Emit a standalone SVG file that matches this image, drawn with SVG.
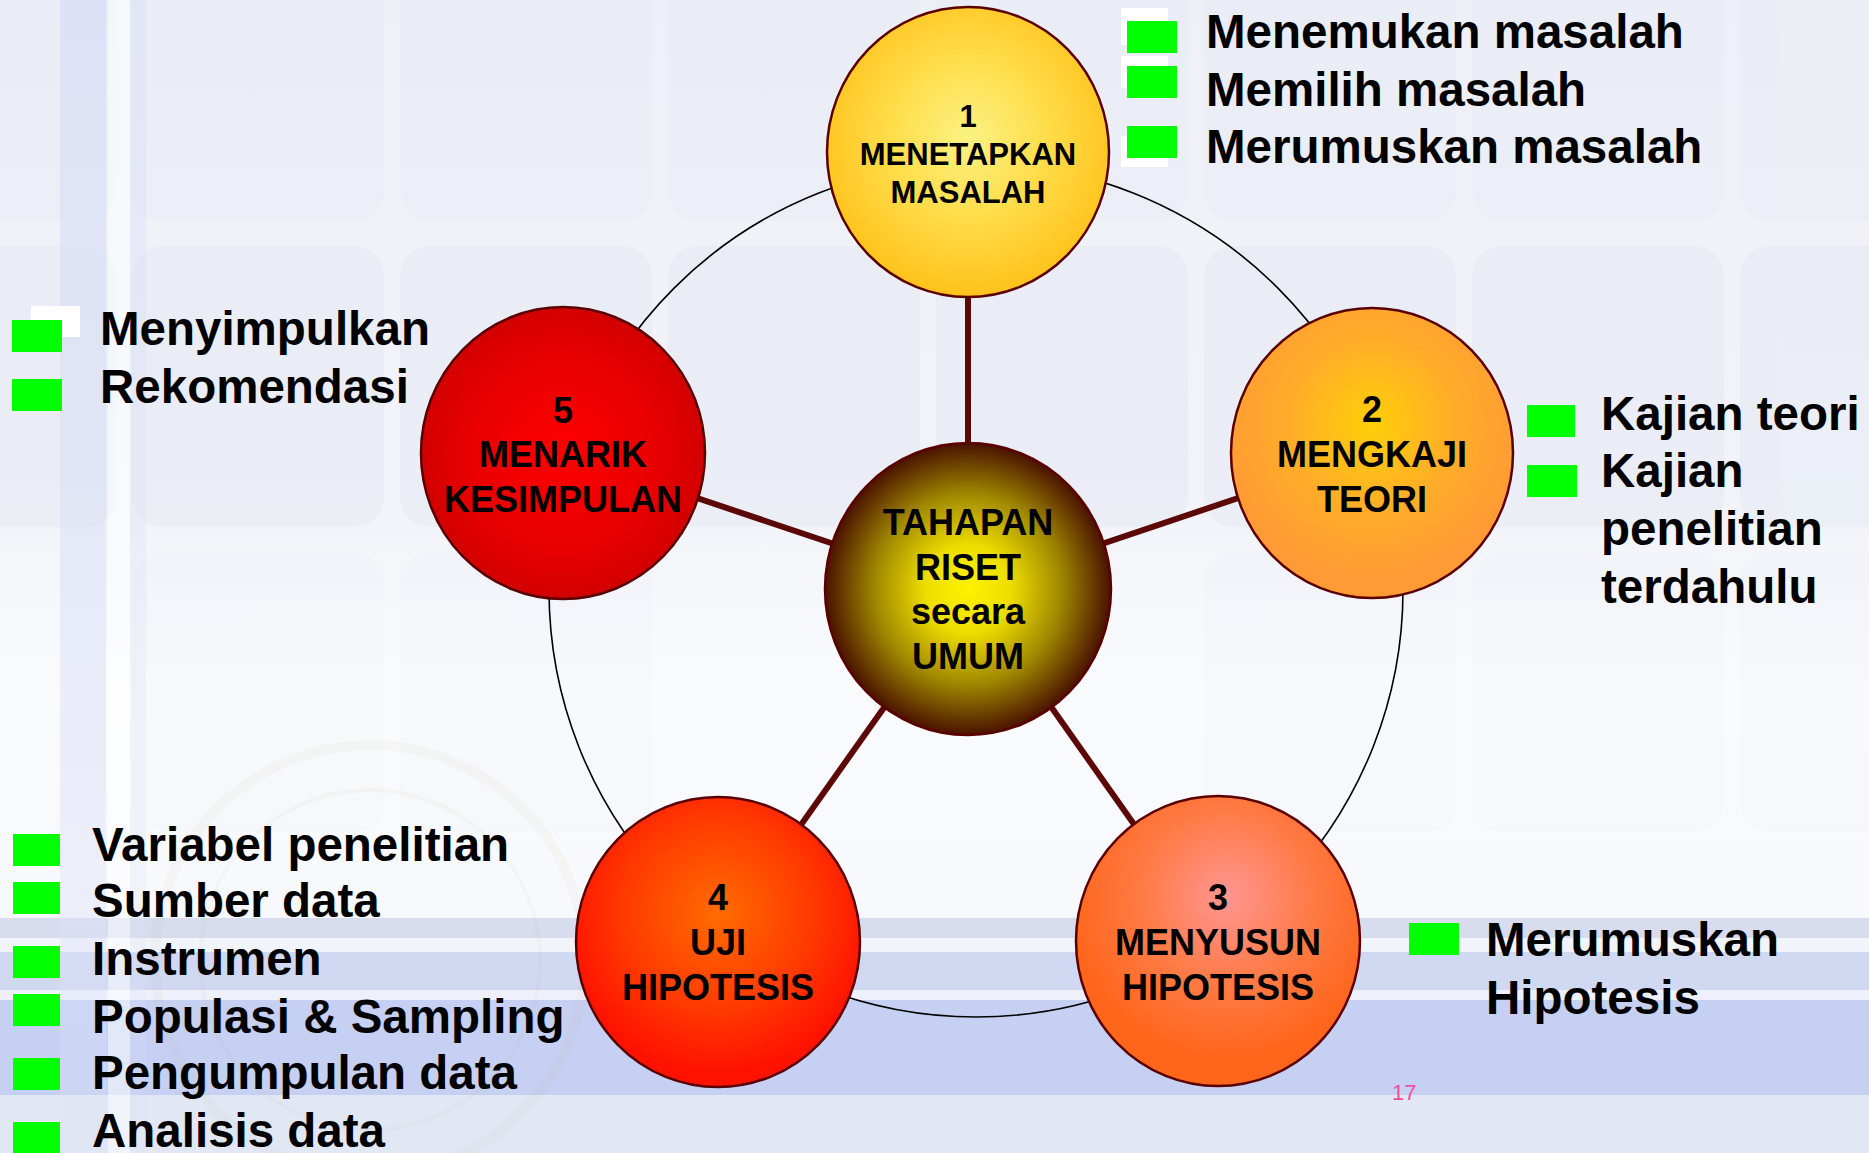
<svg xmlns="http://www.w3.org/2000/svg" width="1869" height="1153" viewBox="0 0 1869 1153">
<style>
.lst{font-family:"Liberation Sans",Arial,sans-serif;font-weight:bold;font-size:47.5px;fill:#000}
.lbl{font-family:"Liberation Sans",Arial,sans-serif;font-weight:bold;font-size:36px;fill:#000;text-anchor:middle}
.lbl1{font-family:"Liberation Sans",Arial,sans-serif;font-weight:bold;font-size:31px;fill:#000;text-anchor:middle}
.bul{fill:#00ff00}
.wb{fill:#ffffff}
.node{stroke:#5a0000;stroke-width:2.5}
.spoke{stroke:#5c0808;stroke-width:6;fill:none}
.tile{fill:#dfe4f0}
</style>
<defs>
<linearGradient id="bg" x1="0" y1="0" x2="0" y2="1">
<stop offset="0" stop-color="#eef0f7"/>
<stop offset="0.45" stop-color="#f2f4f9"/>
<stop offset="0.6" stop-color="#fafbfd"/>
<stop offset="0.78" stop-color="#f8f9fd"/>
<stop offset="1" stop-color="#eef1f9"/>
</linearGradient>
<linearGradient id="lstripe" x1="0" y1="0" x2="0" y2="1">
<stop offset="0" stop-color="#d6dcf5" stop-opacity="0.7"/>
<stop offset="0.7" stop-color="#dde2f6" stop-opacity="0.5"/>
<stop offset="1" stop-color="#dde2f6" stop-opacity="0.2"/>
</linearGradient>
<radialGradient id="g1" cx="0.5" cy="0.45" r="0.55">
<stop offset="0" stop-color="#faf283"/>
<stop offset="0.5" stop-color="#ffdd4a"/>
<stop offset="1" stop-color="#ffc21a"/>
</radialGradient>
<radialGradient id="g2" cx="0.5" cy="0.4" r="0.55">
<stop offset="0" stop-color="#ffcf08"/>
<stop offset="0.55" stop-color="#ffac2a"/>
<stop offset="1" stop-color="#ff9a35"/>
</radialGradient>
<radialGradient id="g3" cx="0.53" cy="0.35" r="0.55">
<stop offset="0" stop-color="#ff9692"/>
<stop offset="0.55" stop-color="#ff7a45"/>
<stop offset="1" stop-color="#ff661c"/>
</radialGradient>
<radialGradient id="g4" cx="0.5" cy="0.4" r="0.55">
<stop offset="0" stop-color="#ff6c00"/>
<stop offset="0.6" stop-color="#ff3a00"/>
<stop offset="1" stop-color="#ff1200"/>
</radialGradient>
<radialGradient id="g5" cx="0.5" cy="0.5" r="0.55">
<stop offset="0" stop-color="#ff0000"/>
<stop offset="0.6" stop-color="#e80000"/>
<stop offset="1" stop-color="#cc0000"/>
</radialGradient>
<radialGradient id="gc" cx="0.5" cy="0.5" r="0.5">
<stop offset="0" stop-color="#fff200"/>
<stop offset="0.3" stop-color="#eedd00"/>
<stop offset="0.65" stop-color="#a08800"/>
<stop offset="1" stop-color="#4a1200"/>
</radialGradient>
</defs>

<!-- background -->
<rect x="0" y="0" width="1869" height="1153" fill="url(#bg)"/>
<g id="tiles">
<g opacity="0.2">
<rect class="tile" x="-136" y="-59" width="252" height="280" rx="30"/>
<rect class="tile" x="132" y="-59" width="252" height="280" rx="30"/>
<rect class="tile" x="400" y="-59" width="252" height="280" rx="30"/>
<rect class="tile" x="668" y="-59" width="252" height="280" rx="30"/>
<rect class="tile" x="936" y="-59" width="252" height="280" rx="30"/>
<rect class="tile" x="1204" y="-59" width="252" height="280" rx="30"/>
<rect class="tile" x="1472" y="-59" width="252" height="280" rx="30"/>
<rect class="tile" x="1740" y="-59" width="252" height="280" rx="30"/>
</g>
<g opacity="0.35">
<rect class="tile" x="-136" y="246" width="252" height="281" rx="30"/>
<rect class="tile" x="132" y="246" width="252" height="281" rx="30"/>
<rect class="tile" x="400" y="246" width="252" height="281" rx="30"/>
<rect class="tile" x="668" y="246" width="252" height="281" rx="30"/>
<rect class="tile" x="936" y="246" width="252" height="281" rx="30"/>
<rect class="tile" x="1204" y="246" width="252" height="281" rx="30"/>
<rect class="tile" x="1472" y="246" width="252" height="281" rx="30"/>
<rect class="tile" x="1740" y="246" width="252" height="281" rx="30"/>
</g>
<g opacity="0.08">
<rect class="tile" x="132" y="552" width="252" height="280" rx="30"/>
<rect class="tile" x="400" y="552" width="252" height="280" rx="30"/>
<rect class="tile" x="1204" y="552" width="252" height="280" rx="30"/>
<rect class="tile" x="1472" y="552" width="252" height="280" rx="30"/>
<rect class="tile" x="1740" y="552" width="252" height="280" rx="30"/>
</g>
</g>
<!-- bottom band -->
<rect x="0" y="918" width="1869" height="20" fill="#c9d0e8" opacity="0.7"/>
<rect x="0" y="938" width="1869" height="14" fill="#f2f4fb"/>
<rect x="0" y="952" width="1869" height="38" fill="#d0d8f2"/>
<rect x="0" y="990" width="1869" height="10" fill="#eef1fb"/>
<rect x="0" y="1000" width="1869" height="95" fill="#c6d0f3"/>
<rect x="0" y="1095" width="1869" height="58" fill="#e2e7f4"/>
<!-- left stripe -->
<rect x="60" y="0" width="46" height="1153" fill="url(#lstripe)"/>
<rect x="108" y="0" width="22" height="1153" fill="#ffffff" opacity="0.5"/>
<rect x="130" y="0" width="16" height="1153" fill="url(#lstripe)" opacity="0.6"/>
<!-- watermark -->
<g opacity="0.05" fill="none" stroke="#b8a060">
<circle cx="370" cy="960" r="215" stroke-width="10"/>
<circle cx="370" cy="960" r="170" stroke-width="4"/>
</g>

<!-- connectors -->
<g id="connectors">
<circle cx="976" cy="590" r="427" fill="none" stroke="#000" stroke-width="1.6"/>
<line class="spoke" x1="968" y1="589" x2="968" y2="152"/>
<line class="spoke" x1="968" y1="589" x2="1372" y2="453"/>
<line class="spoke" x1="968" y1="589" x2="1217" y2="942"/>
<line class="spoke" x1="968" y1="589" x2="718" y2="942"/>
<line class="spoke" x1="968" y1="589" x2="563" y2="453"/>
</g>

<!-- nodes -->
<g id="node1">
<ellipse class="node" cx="968" cy="152" rx="141" ry="145" fill="url(#g1)"/>
<text class="lbl1" x="968" y="127">1</text>
<text class="lbl1" x="968" y="165">MENETAPKAN</text>
<text class="lbl1" x="968" y="203">MASALAH</text>
</g>
<g id="node2">
<ellipse class="node" cx="1372" cy="453" rx="141" ry="145" fill="url(#g2)"/>
<text class="lbl" x="1372" y="422">2</text>
<text class="lbl" x="1372" y="467">MENGKAJI</text>
<text class="lbl" x="1372" y="512">TEORI</text>
</g>
<g id="node3">
<ellipse class="node" cx="1218" cy="941" rx="142" ry="145" fill="url(#g3)"/>
<text class="lbl" x="1218" y="910">3</text>
<text class="lbl" x="1218" y="955">MENYUSUN</text>
<text class="lbl" x="1218" y="1000">HIPOTESIS</text>
</g>
<g id="node4">
<ellipse class="node" cx="718" cy="942" rx="142" ry="145" fill="url(#g4)"/>
<text class="lbl" x="718" y="910">4</text>
<text class="lbl" x="718" y="955">UJI</text>
<text class="lbl" x="718" y="1000">HIPOTESIS</text>
</g>
<g id="node5">
<ellipse class="node" cx="563" cy="453" rx="142" ry="146" fill="url(#g5)"/>
<text class="lbl" x="563" y="423">5</text>
<text class="lbl" x="563" y="467">MENARIK</text>
<text class="lbl" x="563" y="512">KESIMPULAN</text>
</g>
<g id="center">
<ellipse class="node" cx="968" cy="589" rx="143" ry="146" fill="url(#gc)"/>
<text class="lbl" x="968" y="535">TAHAPAN</text>
<text class="lbl" x="968" y="580">RISET</text>
<text class="lbl" x="968" y="624">secara</text>
<text class="lbl" x="968" y="669">UMUM</text>
</g>

<!-- lists -->
<g id="list1">
<rect class="wb" x="1121" y="8" width="47" height="37"/>
<rect class="wb" x="1121" y="56" width="47" height="32"/>
<rect class="wb" x="1121" y="136" width="47" height="31"/>
<rect class="bul" x="1127" y="21" width="50" height="32"/>
<rect class="bul" x="1127" y="66" width="50" height="32"/>
<rect class="bul" x="1127" y="126" width="50" height="32"/>
<text class="lst" x="1206" y="48">Menemukan masalah</text>
<text class="lst" x="1206" y="106">Memilih masalah</text>
<text class="lst" x="1206" y="163">Merumuskan masalah</text>
</g>
<g id="list2">
<rect class="bul" x="1527" y="405" width="48" height="32"/>
<rect class="bul" x="1527" y="465" width="50" height="32"/>
<text class="lst" x="1601" y="430">Kajian teori</text>
<text class="lst" x="1601" y="487">Kajian</text>
<text class="lst" x="1601" y="545">penelitian</text>
<text class="lst" x="1601" y="603">terdahulu</text>
</g>
<g id="list3">
<rect class="bul" x="1409" y="923" width="50" height="32"/>
<text class="lst" x="1486" y="956">Merumuskan</text>
<text class="lst" x="1486" y="1014">Hipotesis</text>
</g>
<g id="list4">
<rect class="bul" x="13" y="834" width="47" height="32"/>
<rect class="bul" x="13" y="882" width="47" height="32"/>
<rect class="bul" x="13" y="946" width="47" height="32"/>
<rect class="bul" x="13" y="994" width="47" height="32"/>
<rect class="bul" x="13" y="1058" width="47" height="32"/>
<rect class="bul" x="13" y="1122" width="47" height="32"/>
<text class="lst" x="92" y="861">Variabel penelitian</text>
<text class="lst" x="92" y="917">Sumber data</text>
<text class="lst" x="92" y="975">Instrumen</text>
<text class="lst" x="92" y="1033">Populasi &amp; Sampling</text>
<text class="lst" x="92" y="1089">Pengumpulan data</text>
<text class="lst" x="92" y="1147">Analisis data</text>
</g>
<g id="list5">
<rect class="wb" x="31" y="306" width="49" height="31"/>
<rect class="bul" x="12" y="320" width="50" height="32"/>
<rect class="bul" x="12" y="379" width="50" height="32"/>
<text class="lst" x="100" y="345">Menyimpulkan</text>
<text class="lst" x="100" y="403">Rekomendasi</text>
</g>
<text x="1392" y="1100" font-family="Liberation Sans, Arial, sans-serif" font-size="22" fill="#f050a0">17</text>
</svg>
